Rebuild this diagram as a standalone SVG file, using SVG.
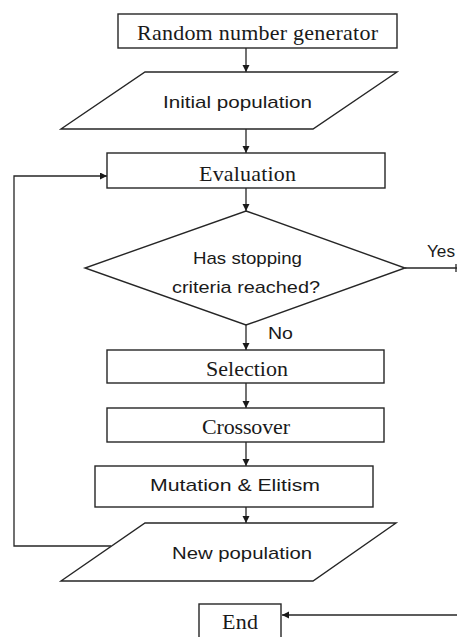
<svg xmlns="http://www.w3.org/2000/svg" width="457" height="637" viewBox="0 0 457 637">
<defs>
<style>
.shape{fill:#fff;stroke:#262626;stroke-width:1.4}
.edge{fill:none;stroke:#262626;stroke-width:1.3}
.serif{font-family:"Liberation Serif","Times New Roman",serif;font-size:22px;fill:#1a1a1a;text-anchor:middle}
.sans{font-family:"Liberation Sans",Arial,sans-serif;font-size:17px;fill:#1a1a1a;text-anchor:middle}
.lbl{font-family:"Liberation Sans",Arial,sans-serif;font-size:17px;fill:#1a1a1a}
</style>
<marker id="arr" markerUnits="userSpaceOnUse" markerWidth="8" markerHeight="8" refX="7" refY="3.5" orient="auto">
<path d="M0,0 L7,3.5 L0,7 Z" fill="#1a1a1a"/>
</marker>
</defs>
<rect width="457" height="637" fill="#fff"/>
<g id="connectors">
<line class="edge" x1="246" y1="48" x2="246" y2="72" marker-end="url(#arr)"/>
<line class="edge" x1="246" y1="129" x2="246" y2="153" marker-end="url(#arr)"/>
<line class="edge" x1="246" y1="188" x2="246" y2="211" marker-end="url(#arr)"/>
<line class="edge" x1="246" y1="325" x2="246" y2="350" marker-end="url(#arr)"/>
<line class="edge" x1="246" y1="383" x2="246" y2="408" marker-end="url(#arr)"/>
<line class="edge" x1="246" y1="442" x2="246" y2="466" marker-end="url(#arr)"/>
<line class="edge" x1="246" y1="507" x2="246" y2="523" marker-end="url(#arr)"/>
<polyline class="edge" points="111,546 14,546 14,176 107,176" marker-end="url(#arr)"/>
<line class="edge" x1="405" y1="268" x2="457" y2="268"/>
<line class="edge" x1="456" y1="264" x2="456" y2="272"/>
<line class="edge" x1="457" y1="615" x2="282" y2="615" marker-end="url(#arr)"/>
<text class="lbl" x="427" y="257" textLength="28" lengthAdjust="spacingAndGlyphs">Yes</text>
<text class="lbl" x="268" y="339" textLength="25" lengthAdjust="spacingAndGlyphs">No</text>
</g>
<g id="rng">
<rect class="shape" x="118" y="14" width="279" height="34"/>
<text class="serif" x="257.5" y="40" textLength="241" lengthAdjust="spacing">Random number generator</text>
</g>
<g id="initial">
<polygon class="shape" points="145,72 397,72 313,129 61,129"/>
<text class="sans" x="237.5" y="108" textLength="149" lengthAdjust="spacingAndGlyphs">Initial population</text>
</g>
<g id="evaluation">
<rect class="shape" x="107" y="153" width="278" height="35"/>
<text class="serif" x="247.5" y="181" textLength="97" lengthAdjust="spacing">Evaluation</text>
</g>
<g id="decision">
<polygon class="shape" points="246,211 405,268 246,325 85,268"/>
<text class="sans" x="247.5" y="264" textLength="109" lengthAdjust="spacingAndGlyphs">Has stopping</text>
<text class="sans" x="246" y="293" textLength="148" lengthAdjust="spacingAndGlyphs">criteria reached?</text>
</g>
<g id="selection">
<rect class="shape" x="107" y="350" width="277" height="33"/>
<text class="serif" x="247" y="376" textLength="82" lengthAdjust="spacing">Selection</text>
</g>
<g id="crossover">
<rect class="shape" x="107" y="408" width="277" height="34"/>
<text class="serif" x="246" y="434" textLength="88" lengthAdjust="spacing">Crossover</text>
</g>
<g id="mutation">
<rect class="shape" x="95" y="466" width="278" height="41"/>
<text class="sans" x="235" y="491" textLength="170" lengthAdjust="spacingAndGlyphs">Mutation &amp; Elitism</text>
</g>
<g id="newpop">
<polygon class="shape" points="145,523 396,523 313,581 61,581"/>
<text class="sans" x="242" y="559" textLength="140" lengthAdjust="spacingAndGlyphs">New population</text>
</g>
<g id="end">
<rect class="shape" x="199" y="604" width="82" height="40"/>
<text class="serif" x="240" y="629" textLength="36" lengthAdjust="spacing">End</text>
</g>
</svg>
